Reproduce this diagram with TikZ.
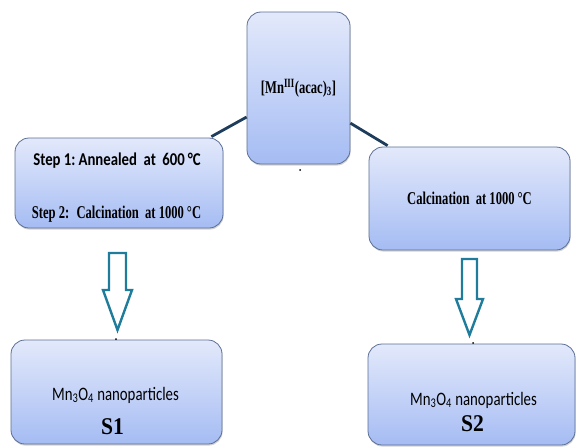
\documentclass[tikz,border=0pt]{standalone}
\usepackage{fontspec}
\setmainfont{Liberation Serif}
\newfontfamily\condserif[FakeStretch=0.7]{Liberation Serif}
\newfontfamily\stepsans[FakeStretch=0.82]{Carlito}
\newfontfamily\condsans[FakeStretch=0.78]{Carlito}
\newfontfamily\labserif[FakeStretch=0.9]{Liberation Serif}
\usetikzlibrary{shadows,calc}
\definecolor{boxtop}{HTML}{E3E9FB}
\definecolor{boxbot}{HTML}{A5BCF3}
\definecolor{boxline}{HTML}{5C6F94}
\definecolor{arrowteal}{HTML}{1F7C9B}
\definecolor{linknavy}{HTML}{1E3D5C}
\begin{document}
\begin{tikzpicture}[x=1pt,y=-1pt,
  box/.style={draw=boxline, line width=0.8pt, rounded corners=14pt,
    top color=boxtop, bottom color=boxbot,
    drop shadow={shadow xshift=0.6pt, shadow yshift=-1.6pt, opacity=0.35},
    inner sep=0pt, align=center},
  link/.style={draw=linknavy, line width=2.8pt},
  blockarrow/.style={draw=arrowteal, fill=white, line width=2.4pt, line join=miter},
  serift/.style={font=\condserif\fontsize{18}{20}\selectfont\bfseries, inner sep=0pt},
  stept/.style={font=\stepsans\fontsize{18}{20}\selectfont\bfseries, inner sep=0pt, anchor=base},
  sanst/.style={font=\condsans\fontsize{19}{21}\selectfont, inner sep=0pt, anchor=base},
  bigs/.style={font=\labserif\fontsize{24}{26}\selectfont\bfseries, inner sep=0pt, anchor=base},
  speck/.style={fill=black, circle, inner sep=0pt, minimum size=2pt}
]
\useasboundingbox (0,0) rectangle (577,447);

% boxes
\node[box, minimum width=103pt, minimum height=152pt, serift] (top) at (298.5,88)
  {[Mn\textsuperscript{III}(acac)\textsubscript{3}]};
\node[box, minimum width=208pt, minimum height=90pt] (left) at (119,183) {};
\node[box, minimum width=201pt, minimum height=103pt, serift] (right) at (469.5,198.5)
  {Calcination\ \ at 1000\,°C};
\node[box, minimum width=211pt, minimum height=104pt] (bl) at (116.5,392) {};
\node[box, minimum width=207pt, minimum height=101pt] (br) at (471.5,394.5) {};

% texts
\node[stept] (st1) at (117,165) {Step 1:\,Annealed\ \ at\, 600\,°C};
\node[serift, anchor=base] (st2) at (116.5,218) {Step 2:\, Calcination\ \ at 1000\,°C};
\node[sanst] (m1) at (115.5,400) {Mn\textsubscript{3}O\textsubscript{4} nanoparticles};
\node[bigs] (s1) at (112.5,434) {S1};
\node[sanst] (m2) at (473.5,405) {Mn\textsubscript{3}O\textsubscript{4} nanoparticles};
\node[bigs] (s2) at (472.5,431) {S2};

% connectors
\draw[link] ($(top.south west)!0.31!(top.north west)$) -- ($(left.north east)+(-12,-1)$);
\draw[link] ($(top.south east)!0.27!(top.north east)$) -- ($(right.north west)+(19,-1)$);

% block arrows
\coordinate (a1) at (117.5,253);
\draw[blockarrow] ($(a1)+(-8.5,0)$) -- ($(a1)+(8.5,0)$) -- ($(a1)+(8.5,37)$) -- ($(a1)+(14.5,37)$)
  -- ($(a1)+(0,77)$) -- ($(a1)+(-14.5,37)$) -- ($(a1)+(-8.5,37)$) -- cycle;
\coordinate (a2) at (469.5,259);
\draw[blockarrow] ($(a2)+(-7.5,0)$) -- ($(a2)+(7.5,0)$) -- ($(a2)+(7.5,40)$) -- ($(a2)+(13.5,40)$)
  -- ($(a2)+(0,76)$) -- ($(a2)+(-13.5,40)$) -- ($(a2)+(-7.5,40)$) -- cycle;

% specks
\node[speck] (d1) at (300,170) {};
\node[speck] (d2) at (116,339) {};
\node[speck] (d3) at (473,343) {};
\end{tikzpicture}
\end{document}
